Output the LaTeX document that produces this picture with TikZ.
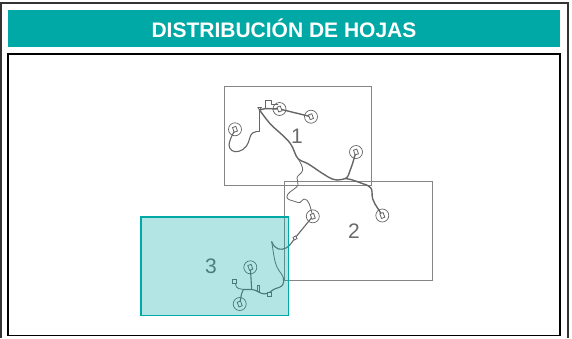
\documentclass[tikz,border=0pt]{standalone}
\usepackage{fontspec}
\setmainfont{Liberation Sans}
\definecolor{tealband}{HTML}{00A9A5}
\definecolor{sheetline}{HTML}{858585}
\definecolor{wire}{HTML}{666666}
\tikzset{
  sheet/.style={draw=sheetline,line width=1pt,minimum width=#1,anchor=north west,inner sep=0pt,outer sep=0pt},
  sheetnum/.style={font=\fontsize{21}{21}\selectfont,text=black!58,inner sep=0pt},
  pin/.style={circle,draw=wire,line width=0.7pt,minimum size=13pt,inner sep=0pt},
  tip/.style={draw=wire,line width=0.8pt,minimum size=3.2pt,inner sep=0pt,fill=white},
  mainwire/.style={draw=wire,line width=1.4pt,line join=round,line cap=round},
  midwire/.style={draw=wire,line width=1.1pt,line join=round,line cap=round},
  thinwire/.style={draw=wire,line width=0.8pt,line join=round,line cap=round},
  frameline/.style={draw=black,line width=1.6pt},
}
\begin{document}
\begin{tikzpicture}[x=1pt,y=-1pt]
\useasboundingbox (0,0) rectangle (572,338);
% outer frame
\coordinate (o1) at (1,338); \coordinate (o2) at (1,3); \coordinate (o3) at (568,3); \coordinate (o4) at (568,338);
\draw[draw=black!80,line width=1.1pt] (o1) -- (o2) -- (o3) -- (o4);
% banner
\node[fill=tealband,minimum width=552pt,minimum height=37pt,inner sep=0pt,outer sep=0pt,anchor=north west,text=white,
  font=\bfseries\fontsize{21}{21}\selectfont] (banner) at (8,10) {DISTRIBUCIÓN DE HOJAS};
% diagram frame
\node[frameline,minimum width=552pt,minimum height=281.5pt,inner sep=0pt,outer sep=0pt,anchor=north west] (panel) at (8,54) {};
% sheets
\node[sheet=147.5pt,minimum height=99pt] (s1) at (224,86) {};
\node[sheet=148pt,minimum height=99pt] (s2) at (284,181) {};
\node[sheetnum] (n1) at (297,136) {1};
\node[sheetnum] (n2) at (354,231) {2};
\node[sheetnum] (n3) at (211,266) {3};
% pins
\node[pin] (c1) at (279.5,109) {};
\node[pin] (c2) at (311,116.7) {};
\node[pin] (c3) at (235,129.3) {};
\node[pin] (c4) at (356,152) {};
\node[pin] (c5) at (382.3,215.5) {};
\node[pin] (c6) at (312.8,216.3) {};
\node[pin] (c7) at (250.3,267.3) {};
\node[pin] (c8) at (239.7,304) {};
% junctions
\coordinate (root) at (259.5,110);
\coordinate (j1) at (298.3,159);
\coordinate (j2) at (345.5,178.5);
\coordinate (j3) at (251.7,289.5);
\coordinate (j4) at (243.5,289.5);
% wires
\draw[mainwire] (root) -- (265,108.6) -- (c1.center) -- (c2.center);
\draw[thinwire] (265.3,108.3) -- (265.3,100) -- (271,100) -- (271,104) -- (278,104);
\draw[thinwire] (root) -- (257.8,107.5) -- (261.5,107.5) -- cycle;
\draw[thinwire] (root) -- (259.5,131.7) -- (256,131.7);
\draw[midwire] (256,131.7) .. controls (250,132.5) and (250.5,137) .. (248.5,142)
  .. controls (246,149) and (240,152) .. (235,151.7)
  .. controls (230,151) and (228,146) .. (229.5,142)
  .. controls (231,137) and (233,134) .. (c3.center);
\draw[mainwire] (root) .. controls (264,116) and (268,122) .. (273,126.7)
  .. controls (279,132) and (286,138) .. (290,143)
  .. controls (294,148) and (295,156) .. (j1)
  .. controls (302,162) and (306,162) .. (310,165)
  .. controls (316,169) and (320,172) .. (325,175)
  .. controls (330,178.5) and (334,180) .. (338,180)
  .. controls (341,180) and (343,179) .. (j2)
  .. controls (352,179) and (360,183) .. (366.7,185)
  .. controls (370,187) and (372,188) .. (372,192)
  .. controls (372,198) and (373,201) .. (375,204)
  -- (c5.center);
\draw[mainwire] (j2) .. controls (349,177) and (349,172) .. (351,168)
  .. controls (353,163) and (354,158) .. (c4.center);
\draw[thinwire] (j1) .. controls (300,162) and (303,167) .. (302.7,170)
  .. controls (302,174) and (297,175) .. (297,178)
  .. controls (297,181) and (298.5,183) .. (298,185)
  .. controls (297,188) and (290,191) .. (288,194)
  .. controls (286,197) and (287,199) .. (290,200)
  .. controls (294,201) and (298,203) .. (300,202.5)
  .. controls (302,202) and (302,199) .. (304,199)
  .. controls (309,199) and (310,206) .. (c6.center);
\draw[midwire] (c6.center) -- (295,238)
  .. controls (292,242) and (290,246) .. (286,248)
  .. controls (281,250.5) and (275,250) .. (271.7,241.7);
\node[tip,minimum size=3pt,rotate=30] (t6) at (295,238) {};
\draw[thinwire] (271.7,241.7) .. controls (273,250) and (274,258) .. (275.5,263)
  .. controls (277,270) and (282,273) .. (283.5,278);
\draw[midwire] (283.5,278) .. controls (284,284) and (283,286) .. (279,287.5)
  .. controls (275,288.5) and (272,290) .. (270,292)
  .. controls (266,295) and (262,294) .. (258,291.7)
  .. controls (256,290.5) and (254,289.5) .. (j3) -- (j4)
  .. controls (241,293) and (241,298) .. (c8.center);
\draw[thinwire] (j4) .. controls (240,288.5) and (237,289) .. (236.5,287) .. controls (236,285) and (235.5,283.5) .. (234.5,282);
\draw[midwire] (c7.center) -- (j3);
\draw[thinwire] (267,293) -- (269.5,294);
\foreach \c in {c1,c2,c3,c4,c5,c6,c7,c8}
  \node[tip,rotate=20,minimum width=3.5pt,minimum height=5pt] at (\c) {};
\node[tip,minimum size=4pt] (t1) at (234.6,281.5) {};
\node[tip,minimum size=4pt] (t2) at (269.5,294.2) {};
\node[tip,minimum width=2.6pt,minimum height=6pt] (t3) at (258.4,288.8) {};
% highlighted sheet on top
\node[draw=tealband,line width=1.6pt,fill=tealband,fill opacity=0.3,minimum width=147.5pt,minimum height=98.5pt,
  inner sep=0pt,outer sep=0pt,anchor=north west] (s3) at (140.8,216.8) {};
\end{tikzpicture}
\end{document}
